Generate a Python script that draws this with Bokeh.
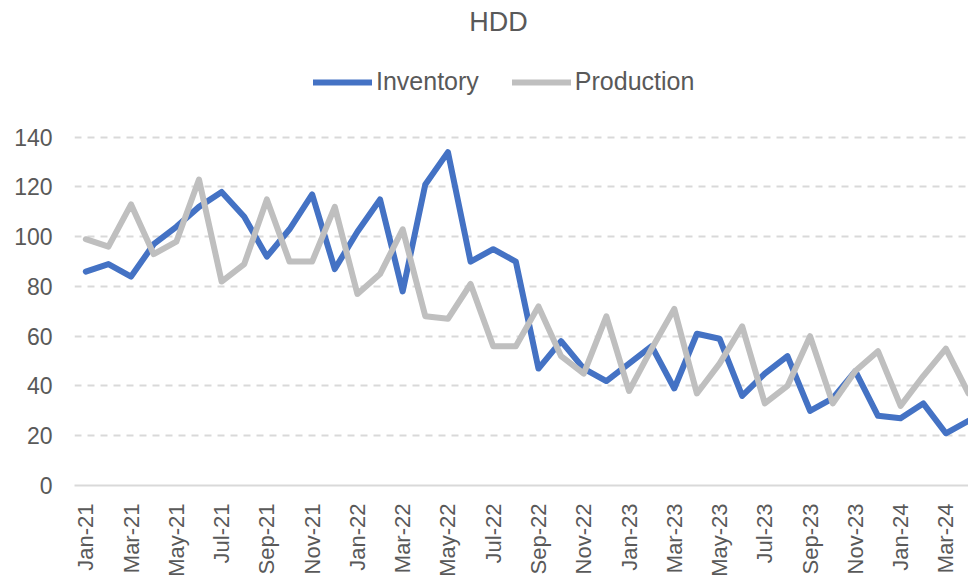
from math import pi
from bokeh.plotting import figure
from bokeh.models import Range1d, FixedTicker, Legend, LegendItem, Label
from bokeh.embed import file_html
from bokeh.resources import INLINE

months = ["Jan-21", "Feb-21", "Mar-21", "Apr-21", "May-21", "Jun-21", "Jul-21", "Aug-21",
          "Sep-21", "Oct-21", "Nov-21", "Dec-21", "Jan-22", "Feb-22", "Mar-22", "Apr-22",
          "May-22", "Jun-22", "Jul-22", "Aug-22", "Sep-22", "Oct-22", "Nov-22", "Dec-22",
          "Jan-23", "Feb-23", "Mar-23", "Apr-23", "May-23", "Jun-23", "Jul-23", "Aug-23",
          "Sep-23", "Oct-23", "Nov-23", "Dec-23", "Jan-24", "Feb-24", "Mar-24", "Apr-24"]

inventory = [86, 89, 84, 97, 104, 112, 118, 108, 92, 103, 117, 87,
             102, 115, 78, 121, 134, 90, 95, 90, 47, 58, 47, 42,
             49, 56, 39, 61, 59, 36, 45, 52, 30, 35, 46, 28,
             27, 33, 21, 26]

production = [99, 96, 113, 93, 98, 123, 82, 89, 115, 90, 90, 112,
              77, 85, 103, 68, 67, 81, 56, 56, 72, 52, 45, 68,
              38, 55, 71, 37, 49, 64, 33, 40, 60, 33, 46, 54,
              32, 44, 55, 37]

y_ticks = [0, 20, 40, 60, 80, 100, 120, 140]

x = list(range(len(months)))

TEXT = "#595959"
FONT = "Liberation Sans"
BLUE = "#4472C4"
GRAY = "#BFBFBF"

W, H = 968, 579
FL, FB = 74, 486            # frame left / bottom (canvas px); frame top at canvas 0
Y140_PX = 137               # where the 140 gridline sits
X0, X1 = -0.5, 39.0
Y0 = 0
Y1 = 140 * FB / (FB - Y140_PX)   # extend the range so the frame reaches the top

p = figure(width=W, height=H, x_range=Range1d(X0, X1), y_range=Range1d(Y0, Y1),
           output_backend="svg", toolbar_location=None, title=None,
           min_border_left=FL, min_border_right=0, min_border_top=0,
           min_border_bottom=H - FB)
p.outline_line_color = None
p.background_fill_color = "white"
p.border_fill_color = "white"

# y axis
p.yaxis.ticker = FixedTicker(ticks=y_ticks)
p.yaxis.axis_line_color = None
p.yaxis.major_tick_line_color = None
p.yaxis.minor_tick_line_color = None
p.yaxis.major_tick_out = 0
p.yaxis.minor_tick_out = 0
p.yaxis.major_label_standoff = 22
p.yaxis.major_label_text_font_size = "23px"
p.yaxis.major_label_text_color = TEXT
p.yaxis.major_label_text_font = FONT

# x axis
p.xaxis.ticker = FixedTicker(ticks=x[::2])
p.xaxis.major_label_overrides = {i: months[i] for i in x[::2]}
p.xaxis.major_label_orientation = pi / 2
p.xaxis.axis_line_color = "#D9D9D9"
p.xaxis.axis_line_width = 2
p.xaxis.major_tick_line_color = None
p.xaxis.minor_tick_line_color = None
p.xaxis.major_tick_out = 0
p.xaxis.minor_tick_out = 0
p.xaxis.major_label_standoff = 18
p.xaxis.major_label_text_font_size = "22px"
p.xaxis.major_label_text_color = TEXT
p.xaxis.major_label_text_font = FONT

p.xgrid.grid_line_color = None
p.ygrid.grid_line_color = "#D9D9D9"
p.ygrid.grid_line_width = 2
p.ygrid.grid_line_dash = "7 6"

r1 = p.line(x, inventory, line_width=6, line_color=BLUE, line_join="round", line_cap="round")
r2 = p.line(x, production, line_width=6, line_color=GRAY, line_join="round", line_cap="round")

legend = Legend(items=[LegendItem(label="Inventory", renderers=[r1]),
                       LegendItem(label="Production", renderers=[r2])],
                orientation="horizontal", location=(313 - FL, FB - 97), padding=0, margin=0,
                spacing=33, glyph_width=59, glyph_height=26, label_height=26,
                label_standoff=4,
                border_line_color=None, background_fill_alpha=0,
                label_text_font_size="25px", label_text_color=TEXT, label_text_font=FONT)
p.add_layout(legend)

fw = W - FL
def px_to_x(cx):
    return X0 + (cx - FL) * (X1 - X0) / fw
def py_to_y(cy):
    return Y0 + (FB - cy) * (Y1 - Y0) / FB

p.add_layout(Label(x=px_to_x(498), y=py_to_y(22), text="HDD", text_align="center",
                   text_baseline="middle", text_font_size="27px", text_color=TEXT,
                   text_font=FONT))

open("out.html", "w").write(file_html(p, INLINE))
